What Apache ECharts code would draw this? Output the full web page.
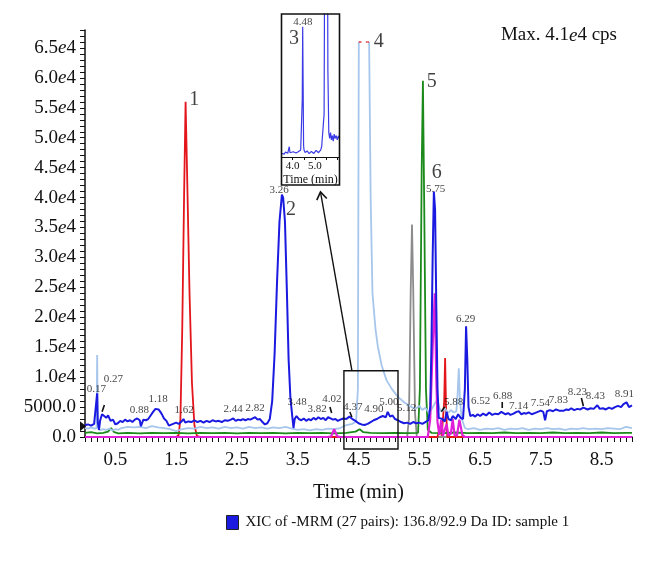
<!DOCTYPE html>
<html><head><meta charset="utf-8">
<script src="https://cdn.jsdelivr.net/npm/echarts/dist/echarts.min.js"></script>
<style>html,body{margin:0;padding:0;background:#fff}#c{width:646px;height:573px}</style>
</head><body><div id="c"></div>
<script>
// ---------- tick labels ----------
const yTickLabels = ['0.0','5000.0','1.0e4','1.5e4','2.0e4','2.5e4','3.0e4','3.5e4','4.0e4','4.5e4','5.0e4','5.5e4','6.0e4','6.5e4'];
const xTickLabels = ['0.5','1.5','2.5','3.5','4.5','5.5','6.5','7.5','8.5'];
const insetTickLabels = ['4.0','5.0'];

// ---------- traces: [time (min), intensity (cps)] ----------
const blueTrace = [
[0.00,2000],[0.05,2100],[0.10,1900],[0.15,2200],[0.18,2000],[0.20,7300],[0.21,2500],[0.23,1200],[0.25,2800],[0.28,3800],
[0.31,3500],[0.35,3200],[0.38,3600],[0.42,2700],[0.46,2900],[0.50,2100],[0.54,2300],[0.58,2700],[0.62,2500],[0.66,2900],
[0.70,2600],[0.74,2800],[0.78,2500],[0.82,2900],[0.86,3100],[0.88,3300],[0.90,2800],[0.92,1800],[0.96,2900],[1.00,2800],
[1.04,3000],[1.08,3600],[1.12,4200],[1.16,4700],[1.18,4900],[1.21,4600],[1.24,4200],[1.27,3700],[1.30,3100],[1.34,2700],
[1.38,1900],[1.41,1700],[1.45,2200],[1.50,2400],[1.54,2200],[1.58,2500],[1.62,3000],[1.65,2400],[1.70,2600],[1.75,2500],
[1.80,2800],[1.85,2500],[1.90,2700],[1.95,2400],[2.00,2700],[2.05,2500],[2.10,2800],[2.15,2600],[2.20,2700],[2.25,2500],
[2.30,2800],[2.35,2700],[2.40,2900],[2.44,3100],[2.48,2700],[2.52,2900],[2.56,2800],[2.60,3000],[2.64,2800],[2.68,3000],
[2.72,2900],[2.76,3100],[2.80,3300],[2.84,2900],[2.88,3000],[2.92,2500],[2.96,2100],[3.00,2300],[3.04,3000],[3.08,6000],
[3.12,14000],[3.16,26000],[3.20,36000],[3.24,40500],[3.26,40000],[3.29,36000],[3.32,25000],[3.35,13000],[3.38,6500],[3.41,3500],
[3.43,1500],[3.45,3000],[3.48,3500],[3.52,3000],[3.56,2800],[3.60,3100],[3.64,2700],[3.68,3000],[3.72,2800],[3.76,3200],
[3.80,2900],[3.84,3300],[3.88,3000],[3.92,3200],[3.96,2800],[4.00,3300],[4.04,3100],[4.08,2900],[4.12,3000],[4.16,2700],
[4.20,2900],[4.25,3100],[4.30,3000],[4.35,3400],[4.40,3000],[4.45,2700],[4.50,2300],[4.55,2100],[4.60,2000],[4.65,2200],
[4.70,2500],[4.75,2800],[4.80,3000],[4.85,3300],[4.90,3500],[4.95,3300],[4.98,4200],[5.02,3400],[5.06,3600],[5.10,3000],
[5.15,2800],[5.20,2500],[5.25,2300],[5.30,2400],[5.35,2200],[5.40,2500],[5.45,2300],[5.50,2400],[5.55,2200],[5.60,2500],
[5.65,2800],[5.68,5000],[5.70,15000],[5.72,30000],[5.74,41000],[5.76,38000],[5.78,22000],[5.80,8000],[5.82,3200],[5.85,3500],
[5.88,3000],[5.92,2600],[5.95,4200],[5.98,3000],[6.02,2800],[6.05,3500],[6.10,3000],[6.14,3800],[6.18,3200],[6.22,3000],
[6.25,8000],[6.27,18500],[6.29,13000],[6.31,5000],[6.34,3500],[6.38,3700],[6.42,3400],[6.46,3800],[6.50,3500],[6.55,3900],
[6.60,3600],[6.65,4100],[6.70,3700],[6.75,3900],[6.80,3800],[6.85,4200],[6.88,4400],[6.92,3800],[6.96,4000],[7.00,3700],
[7.05,3900],[7.10,4200],[7.14,4300],[7.18,3800],[7.22,4000],[7.26,3900],[7.30,4100],[7.35,3800],[7.40,4000],[7.45,4200],
[7.50,4400],[7.54,4200],[7.57,2800],[7.60,4300],[7.65,4500],[7.70,4300],[7.75,4600],[7.80,4400],[7.83,4700],[7.88,4400],
[7.92,4600],[7.96,4500],[8.00,4800],[8.05,4500],[8.10,4700],[8.15,4600],[8.20,4900],[8.23,5000],[8.27,4600],[8.32,4800],
[8.37,4700],[8.43,5300],[8.47,4700],[8.52,4800],[8.57,4600],[8.62,4900],[8.67,4700],[8.72,5000],[8.77,5200],[8.82,5000],
[8.86,5500],[8.91,5800],[8.95,5000],[9.00,5300]
];
const lightBlueTrace = [
[0.00,1500],[0.05,1400],[0.10,1600],[0.15,1400],[0.19,1500],[0.20,13700],[0.21,1800],[0.24,1100],[0.30,1300],[0.35,1200],
[0.40,1400],[0.45,1100],[0.50,1300],[0.55,1200],[0.60,1500],[0.70,1700],[0.80,1600],[0.90,1700],[1.00,1500],[1.10,1800],
[1.20,1600],[1.30,1500],[1.40,1300],[1.50,1000],[1.60,1300],[1.70,1500],[1.80,1400],[1.90,1700],[2.00,1500],[2.10,1600],
[2.20,1400],[2.30,1700],[2.40,1500],[2.50,1600],[2.60,1400],[2.70,1700],[2.80,1500],[2.90,1600],[3.00,1400],[3.10,1600],
[3.20,1500],[3.30,1700],[3.40,1400],[3.50,1200],[3.60,1300],[3.70,1100],[3.80,1300],[3.90,1200],[4.00,1400],[4.10,1300],
[4.20,1500],[4.30,2000],[4.40,2200],[4.46,2600],[4.49,8000],[4.505,66000],[4.59,null],[4.675,66000],[4.70,40000],[4.73,24000],
[4.78,18000],[4.82,15000],[4.88,12000],[4.96,9500],[5.05,8000],[5.15,6700],[5.25,5800],[5.37,5000],[5.45,4800],[5.50,5200],
[5.55,4500],[5.60,4900],[5.65,4200],[5.70,4600],[5.75,5500],[5.80,6300],[5.83,4800],[5.87,4200],[5.92,4800],[5.97,4000],
[6.02,4500],[6.07,4100],[6.11,4300],[6.13,7000],[6.15,11500],[6.17,6000],[6.20,3000],[6.25,1500],[6.30,1300],[6.40,1500],
[6.50,1200],[6.60,1400],[6.70,1300],[6.80,1500],[6.90,1200],[7.00,1400],[7.10,1300],[7.20,1500],[7.30,1200],[7.40,1400],
[7.50,1300],[7.60,1500],[7.70,1300],[7.80,1400],[7.90,1200],[8.00,1400],[8.10,1300],[8.20,1500],[8.30,1300],[8.40,1400],
[8.50,1300],[8.60,1500],[8.70,1400],[8.80,1300],[8.90,1700],[9.00,1500]
];
const redTrace = [
[0.00,0],[1.50,0],[1.54,300],[1.57,3000],[1.60,18000],[1.63,40000],[1.655,56000],[1.68,44000],[1.72,24000],[1.76,9000],
[1.80,2000],[1.84,200],[1.90,0],[5.80,0],[5.84,1700],[5.87,200],[5.90,0],[5.91,6000],[5.925,13200],[5.94,5000],[5.96,0],[9.00,0]
];
const greenTrace = [
[0.00,700],[0.10,800],[0.20,600],[0.30,700],[0.38,900],[0.43,1500],[0.48,800],[0.55,600],[0.70,700],[0.90,600],
[1.10,700],[1.30,650],[1.50,700],[1.70,600],[1.90,700],[2.10,650],[2.30,700],[2.50,600],[2.70,700],[2.90,650],
[3.10,700],[3.30,600],[3.50,700],[3.70,650],[3.90,700],[4.10,600],[4.30,700],[4.45,900],[4.52,1300],[4.58,800],
[4.70,700],[4.90,650],[5.10,700],[5.30,650],[5.48,700],[5.51,8000],[5.54,45000],[5.56,59500],[5.58,40000],[5.61,8000],
[5.64,1200],[5.70,700],[5.90,650],[6.10,750],[6.30,650],[6.50,700],[6.70,650],[6.90,750],[7.10,650],[7.30,700],
[7.50,650],[7.70,750],[7.90,650],[8.10,700],[8.30,650],[8.50,750],[8.70,650],[8.90,700],[9.00,700]
];
const grayTrace = [
[0.00,0],[5.30,0],[5.33,3000],[5.36,25000],[5.38,35500],[5.40,25000],[5.43,4000],[5.46,0],[9.00,0]
];
const magentaTrace = [
[0.00,0],[4.00,0],[4.05,100],[4.10,1300],[4.15,100],[4.20,0],[5.64,0],[5.68,3000],[5.72,15000],[5.755,24000],
[5.78,10000],[5.80,2500],[5.83,300],[5.86,2800],[5.89,200],[5.92,0],[5.95,2200],[5.98,200],[6.02,600],[6.05,3000],
[6.08,300],[6.12,200],[6.16,2900],[6.19,3100],[6.21,300],[6.25,0],[9.00,0]
];
const saturationDots = [[4.515,66000],[4.535,66000],[4.635,66000],[4.66,66000]];

// ---------- inset trace (zoom of peak 3) ----------
const insetTrace = [
[3.50,2.5],[3.56,2.8],[3.62,2.0],[3.68,3.5],[3.73,3.7],[3.78,2.6],[3.82,5.5],[3.85,7.2],[3.88,3.0],[3.91,2.1],
[3.96,3.2],[4.03,3.7],[4.09,2.4],[4.15,2.8],[4.20,4.0],[4.25,3.7],[4.30,2.6],[4.36,4.9],[4.41,5.5],[4.43,40],
[4.45,91],[4.47,50],[4.49,8],[4.51,4.9],[4.56,3.2],[4.60,2.8],[4.65,4.2],[4.70,3.7],[4.74,2.4],[4.78,2.1],
[4.84,3.9],[4.90,3.7],[4.95,2.5],[5.00,3.0],[5.05,4.6],[5.10,4.4],[5.16,3.0],[5.22,3.7],[5.26,5.0],[5.30,7.2],
[5.34,6.0],[5.38,8.4],[5.41,30],[5.43,120],[5.50,200],[5.56,160],[5.58,60],[5.62,17],[5.66,13],[5.70,17],
[5.74,12],[5.78,15],[5.82,11],[5.86,16],[5.90,13],[5.95,15],[6.00,12],[6.05,14.7],[6.10,13]
];

// ---------- annotations ----------
const rtLabels = ['0.17','0.27','0.88','1.18','1.62','2.44','2.82','3.26','3.48','3.82','4.02','4.37','4.90','5.00','5.12','5.75','5.88','6.29','6.52','6.88','7.14','7.54','7.83','8.23','8.43','8.91'];
const rtLabelAt = [[0.187,8020],[0.466,9690],[0.893,4510],[1.205,6350],[1.632,4510],[2.437,4680],[2.798,4850],[3.192,41270],[3.489,5850],[3.818,4680],[4.062,6350],[4.407,5010],[4.752,4680],[4.998,5850],[5.293,4850],[5.770,41440],[6.066,5850],[6.263,19720],[6.509,6020],[6.870,6850],[7.133,5180],[7.494,5680],[7.790,6180],[8.101,7520],[8.397,6850],[8.873,7180]];
const leaderSegments = [
[[0.281,4230],[0.319,5350]],[[4.030,5010],[4.058,4010]],[[4.358,4180],[4.391,3340]],
[[5.864,4230],[5.918,5060]],[[6.865,5850],[6.865,4850]],[[8.167,6520],[8.200,5180]]
];
const peakNumbers = ['1','2','4','5','6'];
const peakNumberAt = [[1.796,56310],[3.389,37930],[4.835,66000],[5.704,59300],[5.786,44110]];
const insetLabels = ['3','4.48'];
const insetLabelAt = [[4.06,82.5],[4.46,94.4]];
const zoomWindow = [4.26, 5.15, 11080];
const legendName = 'XIC of -MRM (27 pairs): 136.8/92.9 Da ID: sample 1';

// ---------- chart ----------
const SERIF = "'Liberation Serif','DejaVu Serif',serif";
const chart = echarts.init(document.getElementById('c'), null, {renderer:'canvas'});

const leaderData = [];
leaderSegments.forEach(s => { leaderData.push(s[0], s[1], [s[1][0], null]); });

function textScatter(texts, coords, size, xi, yi, z) {
  return {
    type:'scatter', xAxisIndex:xi, yAxisIndex:yi, symbolSize:0, silent:true, z:z||10,
    data: coords.map((c,i)=>[c[0],c[1],texts[i]]),
    label:{show:true, position:'inside', formatter:p=>p.data[2], color:'#111', fontFamily:SERIF, fontSize:size},
    clip:false
  };
}

function lineS(name, data, color, width, z) {
  return {name:name, type:'line', data:data, symbol:'none', xAxisIndex:0, yAxisIndex:0,
    lineStyle:{color:color, width:width}, itemStyle:{color:color}, z:z, connectNulls:false, silent:true, clip:true};
}

const option = {
  animation:false,
  backgroundColor:'#fff',
  title:{
    text:'Max. 4.1{e|e}4 cps', right:24, top:21,
    textStyle:{fontFamily:SERIF, fontSize:19, fontWeight:'normal', color:'#111',
      rich:{e:{fontFamily:SERIF, fontSize:19, fontStyle:'italic', color:'#111'}}}
  },
  legend:{
    data:[legendName], left:221, top:510, icon:'rect', itemWidth:12, itemHeight:14, itemGap:10,
    itemStyle:{borderColor:'#222', borderWidth:1},
    textStyle:{fontFamily:SERIF, fontSize:15, color:'#111', padding:[0,0,0,2]}
  },
  grid:[
    {left:85, top:30, right:14, bottom:136, outerBoundsMode:'none', containLabel:false},
    {left:281.5, top:14, width:58, height:143, outerBoundsMode:'none', containLabel:false}
  ],
  xAxis:[
    {type:'value', gridIndex:0, min:0, max:9, interval:0.1,
      axisLine:{show:true, onZero:false, lineStyle:{color:'#111', width:1.5}},
      axisTick:{show:true, length:5, lineStyle:{color:'#111', width:1}},
      splitLine:{show:false},
      axisLabel:{margin:14, fontFamily:SERIF, fontSize:19, color:'#111',
        formatter:v=>{const s=(Math.round(v*10)/10).toFixed(1); return xTickLabels.includes(s)?s:'';}},
      name:'Time (min)', nameLocation:'middle', nameGap:46,
      nameTextStyle:{fontFamily:SERIF, fontSize:20, color:'#111'}},
    {type:'value', gridIndex:1, min:3.5, max:6.1, interval:0.5,
      axisLine:{show:true, onZero:false, lineStyle:{color:'#111', width:1.2}},
      axisTick:{show:true, length:3, lineStyle:{color:'#111'}},
      splitLine:{show:false},
      axisLabel:{margin:4, fontFamily:SERIF, fontSize:11, color:'#111', showMaxLabel:false,
        formatter:v=>{const s=(Math.round(v*10)/10).toFixed(1); return insetTickLabels.includes(s)?s:'';}},
      name:'Time (min)', nameLocation:'middle', nameGap:17,
      nameTextStyle:{fontFamily:SERIF, fontSize:12, color:'#111'}}
  ],
  yAxis:[
    {type:'value', gridIndex:0, min:0, max:68000, interval:1000,
      axisLine:{show:true, lineStyle:{color:'#111', width:1.5}},
      axisTick:{show:true, length:5, lineStyle:{color:'#111', width:1}},
      splitLine:{show:false},
      axisLabel:{margin:9, fontFamily:SERIF, fontSize:19, color:'#111',
        formatter:v=>{ if (v % 5000 !== 0) return ''; const t = yTickLabels[v/5000]; return t ? t.replace('e','{e|e}') : ''; },
        rich:{e:{fontFamily:SERIF, fontSize:19, fontStyle:'italic', color:'#111'}}}},
    {type:'value', gridIndex:1, min:0, max:100, show:false}
  ],
  series:[
    lineS('gray', grayTrace, '#8c8c8c', 1.8, 2),
    lineS('red', redTrace, '#e3161c', 1.8, 3),
    lineS('green', greenTrace, '#1b8a1b', 1.8, 4),
    lineS('lightblue', lightBlueTrace, '#a6c6ec', 1.8, 5),
    lineS('magenta', magentaTrace, '#e020d8', 2.2, 6),
    lineS(legendName, blueTrace, '#1a1ae0', 2, 7),
    {type:'scatter', xAxisIndex:0, yAxisIndex:0, data:saturationDots, symbol:'circle', symbolSize:2,
      itemStyle:{color:'#e04040'}, silent:true, z:8, clip:false},
    {type:'line', xAxisIndex:0, yAxisIndex:0, data:leaderData, symbol:'none', connectNulls:false,
      lineStyle:{color:'#111', width:1.6}, silent:true, z:9, clip:false},
    textScatter(rtLabels, rtLabelAt, 11, 0, 0, 10),
    textScatter(peakNumbers, peakNumberAt, 20, 0, 0, 10),
    {type:'line', xAxisIndex:1, yAxisIndex:1, data:insetTrace, symbol:'none',
      lineStyle:{color:'#3a3ae6', width:1.2}, silent:true, z:10, clip:true},
    textScatter(insetLabels.slice(0,1), insetLabelAt.slice(0,1), 20, 1, 1, 11),
    textScatter(insetLabels.slice(1), insetLabelAt.slice(1), 11, 1, 1, 11)
  ]
};
chart.setOption(option);

// ---------- overlay decorations (positions derived from the axes) ----------
const p = (x,y) => chart.convertToPixel({gridIndex:0},[x,y]);
const axisY = p(0,0)[1];
const zTL = p(zoomWindow[0], zoomWindow[2]);
const zBR = p(zoomWindow[1], 0);
const insetTL = chart.convertToPixel({gridIndex:1},[3.5,100]);
const insetBR = chart.convertToPixel({gridIndex:1},[6.1,0]);
const insetBoxBottom = insetBR[1] + 28;
const tip = [ (insetTL[0]+insetBR[0])/2 + 10, insetBoxBottom + 7 ];
const lineEnd = [zTL[0] + 8, zTL[1]];
const ang = Math.atan2(lineEnd[1]-tip[1], lineEnd[0]-tip[0]);
const ah = 9, spread = 0.6;
const a1 = [tip[0] + ah*Math.cos(ang-spread), tip[1] + ah*Math.sin(ang-spread)];
const a2 = [tip[0] + ah*Math.cos(ang+spread), tip[1] + ah*Math.sin(ang+spread)];
const tri = p(0, 1800);

chart.setOption({
  graphic:[
    {type:'rect', shape:{x:zTL[0], y:zTL[1], width:zBR[0]-zTL[0], height:(axisY+12)-zTL[1]},
      style:{fill:null, stroke:'#111', lineWidth:1.4}, z:20, silent:true},
    {type:'rect', shape:{x:insetTL[0], y:insetTL[1], width:insetBR[0]-insetTL[0], height:insetBoxBottom-insetTL[1]},
      style:{fill:null, stroke:'#111', lineWidth:1.6}, z:20, silent:true},
    {type:'line', shape:{x1:tip[0], y1:tip[1], x2:lineEnd[0], y2:lineEnd[1]},
      style:{stroke:'#111', lineWidth:1.4}, z:20, silent:true},
    {type:'polyline', shape:{points:[a1, tip, a2]}, style:{stroke:'#111', lineWidth:1.6, fill:null}, z:20, silent:true},
    {type:'polygon', shape:{points:[[tri[0]-5, tri[1]-5],[tri[0]+1, tri[1]],[tri[0]-5, tri[1]+5]]},
      style:{fill:'#111'}, z:20, silent:true}
  ]
});
</script>
</body></html>
